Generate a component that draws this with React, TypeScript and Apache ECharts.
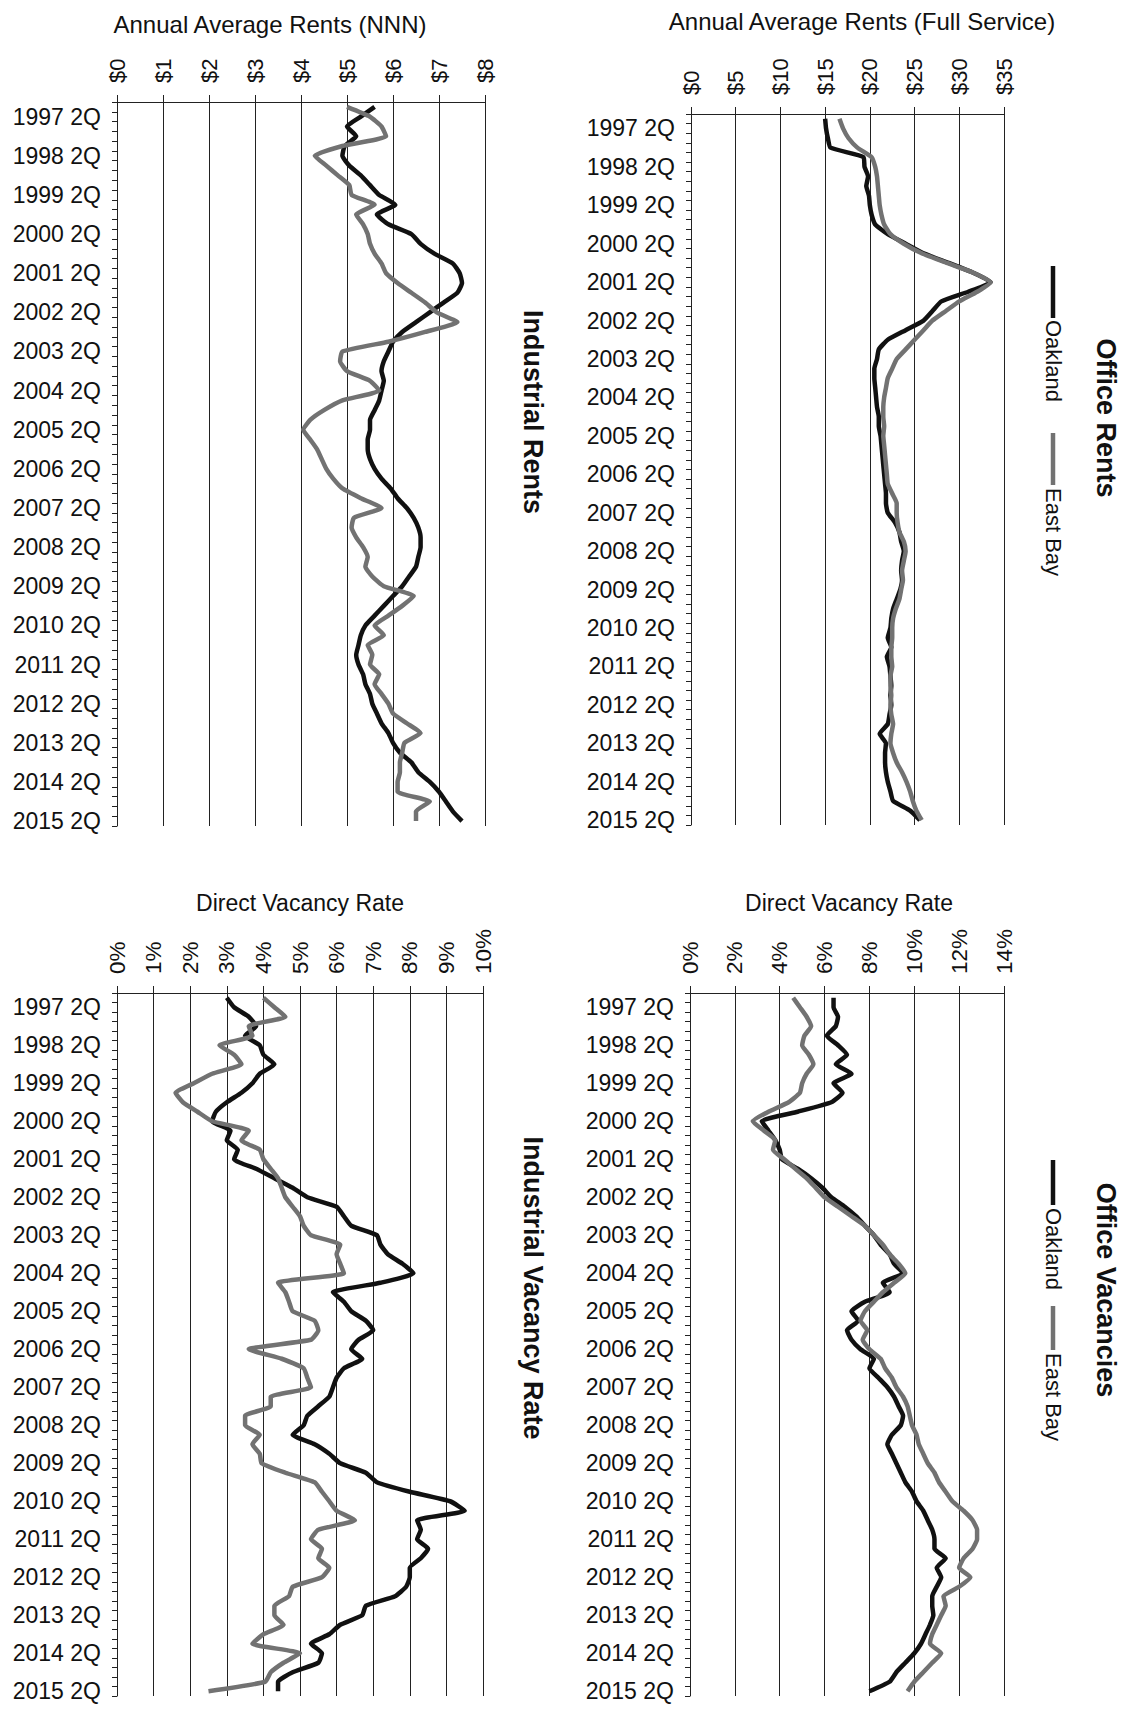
import React, { useEffect, useRef } from "react";
import * as echarts from "echarts";

// ---------- categories ----------
const YEARS = [1997, 1998, 1999, 2000, 2001, 2002, 2003, 2004, 2005, 2006, 2007, 2008, 2009, 2010, 2011, 2012, 2013, 2014, 2015];
const QUARTER_NAMES = ["1Q", "2Q", "3Q", "4Q"];
const LAST_YEAR_QUARTERS = 2;
const CATEGORIES: string[] = [];
YEARS.forEach((y, yi) => {
  const n = yi === YEARS.length - 1 ? LAST_YEAR_QUARTERS : 4;
  for (let q = 0; q < n; q++) CATEGORIES.push(`${y} ${QUARTER_NAMES[q]}`);
});

// ---------- series values (1997 1Q .. 2015 2Q) ----------
const industrialRentOakland = [5.6, 5.3, 5.0, 5.2, 4.95, 4.9, 5.05, 5.3, 5.5, 5.7, 6.05, 5.65, 5.9, 6.4, 6.6, 6.9, 7.3, 7.45, 7.5, 7.4, 7.1, 6.8, 6.5, 6.2, 6.0, 5.9, 5.8, 5.75, 5.8, 5.75, 5.7, 5.6, 5.5, 5.5, 5.45, 5.45, 5.5, 5.6, 5.75, 5.95, 6.1, 6.3, 6.45, 6.55, 6.6, 6.6, 6.55, 6.5, 6.35, 6.2, 6.0, 5.8, 5.6, 5.4, 5.3, 5.25, 5.2, 5.25, 5.35, 5.4, 5.5, 5.55, 5.65, 5.75, 5.9, 6.0, 6.15, 6.4, 6.55, 6.8, 7.0, 7.15, 7.3, 7.5];
const industrialRentEastBay = [5.0, 5.5, 5.75, 5.85, 4.9, 4.3, 4.55, 4.8, 5.05, 5.1, 5.6, 5.2, 5.35, 5.45, 5.5, 5.6, 5.75, 5.85, 6.1, 6.4, 6.7, 6.95, 7.4, 6.7, 5.9, 4.9, 4.85, 5.0, 5.5, 5.7, 4.9, 4.5, 4.2, 4.05, 4.2, 4.35, 4.45, 4.55, 4.7, 4.9, 5.3, 5.75, 5.15, 5.1, 5.2, 5.35, 5.45, 5.4, 5.55, 5.8, 6.45, 6.2, 5.9, 5.6, 5.8, 5.45, 5.55, 5.5, 5.7, 5.6, 5.75, 5.9, 6.0, 6.3, 6.6, 6.25, 6.2, 6.15, 6.15, 6.1, 6.1, 6.8, 6.5, 6.5];

const officeRentOakland = [15.0, 15.1, 15.3, 15.6, 19.3, 19.4, 19.8, 19.6, 19.9, 20.0, 20.2, 20.6, 22.0, 24.0, 26.0, 28.8, 31.5, 33.5, 31.0, 28.0, 27.0, 26.0, 24.0, 22.0, 21.0, 20.8, 20.5, 20.5, 20.6, 20.7, 20.8, 21.0, 21.0, 21.2, 21.3, 21.4, 21.5, 21.6, 21.7, 21.8, 21.8, 22.0, 22.8, 23.3, 23.5, 23.8, 23.6, 23.5, 23.6, 23.4, 23.0, 22.6, 22.4, 22.3, 22.0, 22.4, 21.9, 22.2, 22.3, 22.4, 22.3, 22.4, 22.2, 22.0, 21.1, 21.8, 21.7, 21.7, 21.8, 22.0, 22.3, 22.6, 24.5, 25.6];
const officeRentEastBay = [16.6, 17.0, 17.6, 18.6, 20.2, 20.6, 20.8, 20.9, 21.0, 21.1, 21.3, 21.6, 22.3, 23.8, 25.8, 28.6, 31.5, 33.5, 32.0, 30.0, 28.5, 27.0, 26.0, 25.0, 24.0, 23.0, 22.5, 22.0, 21.8, 21.6, 21.5, 21.5, 21.6, 21.5, 21.6, 21.7, 21.8, 21.9, 22.0, 22.5, 23.0, 23.0, 23.1, 23.3, 23.8, 24.0, 23.8, 23.6, 23.7, 23.5, 23.3, 22.9, 22.6, 22.5, 22.5, 22.4, 22.4, 22.5, 22.3, 22.3, 22.4, 22.3, 22.4, 22.6, 22.4, 22.3, 22.6, 23.0, 23.6, 24.1, 24.5, 24.8, 25.2, 25.8];

const industrialVacOakland = [3.0, 3.2, 3.6, 3.8, 3.5, 3.9, 4.0, 4.3, 3.9, 3.7, 3.4, 3.0, 2.7, 2.6, 3.1, 3.0, 3.3, 3.2, 3.8, 4.3, 4.8, 5.2, 6.0, 6.2, 6.4, 7.1, 7.2, 7.4, 7.8, 8.1, 7.2, 5.9, 6.2, 6.4, 6.8, 7.0, 6.6, 6.4, 6.7, 6.2, 6.0, 5.9, 5.8, 5.5, 5.2, 5.1, 4.8, 5.4, 5.8, 6.1, 6.8, 7.1, 8.0, 9.1, 9.5, 8.2, 8.3, 8.2, 8.5, 8.3, 8.0, 8.0, 7.9, 7.6, 6.8, 6.7, 6.1, 5.8, 5.3, 5.6, 5.5, 4.8, 4.4, 4.4];
const industrialVacEastBay = [4.0, 4.3, 4.6, 3.6, 3.7, 2.8, 3.2, 3.4, 2.6, 2.1, 1.6, 1.8, 2.2, 2.6, 3.6, 3.4, 3.9, 4.0, 4.2, 4.4, 4.5, 4.6, 4.8, 5.0, 5.1, 5.3, 6.1, 6.0, 6.1, 6.2, 4.4, 4.6, 4.7, 4.8, 5.4, 5.5, 5.3, 3.6, 4.5, 5.1, 5.2, 5.3, 4.2, 4.2, 3.5, 3.5, 3.9, 3.7, 3.9, 3.95, 4.6, 5.4, 5.6, 5.8, 6.0, 6.5, 5.5, 5.3, 5.6, 5.5, 5.8, 5.6, 4.8, 4.7, 4.3, 4.3, 4.55, 4.0, 3.7, 5.0, 4.55, 4.2, 4.05, 2.5];

const officeVacOakland = [6.4, 6.4, 6.6, 6.5, 6.1, 6.6, 7.0, 6.5, 7.2, 6.4, 6.8, 6.3, 4.8, 3.2, 3.5, 3.8, 4.0, 4.1, 4.8, 5.4, 5.9, 6.3, 6.9, 7.4, 7.8, 8.2, 8.5, 8.9, 9.1, 9.5, 8.6, 8.9, 7.8, 7.2, 7.5, 7.0, 7.2, 7.6, 8.2, 8.0, 8.4, 8.8, 9.1, 9.3, 9.5, 9.4, 9.0, 8.8, 9.0, 9.2, 9.4, 9.6, 9.9, 10.1, 10.4, 10.6, 10.8, 10.9, 10.9, 11.4, 11.0, 11.2, 11.0, 10.8, 10.8, 10.85, 10.7, 10.5, 10.3, 10.0, 9.6, 9.2, 8.9, 8.0];
const officeVacEastBay = [4.6, 4.9, 5.2, 5.4, 5.1, 5.0, 5.3, 5.5, 5.2, 5.0, 4.9, 4.4, 3.5, 2.8, 3.3, 3.8, 3.7, 4.2, 4.7, 5.2, 5.6, 6.0, 6.6, 7.2, 7.8, 8.2, 8.6, 8.9, 9.3, 9.6, 9.1, 8.6, 8.2, 7.8, 7.6, 7.9, 7.7, 8.0, 8.5, 8.7, 9.0, 9.2, 9.5, 9.7, 9.8, 9.9, 10.1, 10.2, 10.4, 10.6, 10.9, 11.1, 11.4, 11.7, 12.2, 12.6, 12.8, 12.8, 12.6, 12.2, 12.0, 12.5, 12.0, 11.3, 11.4, 11.2, 11.0, 10.8, 10.7, 11.2, 10.8, 10.4, 10.0, 9.7];

// ---------- texts ----------
const SERIES_NAMES = ["Oakland", "East Bay"];
const AXIS_TITLES = ["Annual Average Rents (NNN)", "Annual Average Rents (Full Service)", "Direct Vacancy Rate", "Direct Vacancy Rate"];
const PANEL_TITLES = ["Industrial Rents", "Office Rents", "Industrial Vacancy Rate", "Office Vacancies"];
const VALUE_MAX = [8, 35, 10, 14];
const VALUE_INTERVAL = [1, 5, 1, 2];

const FONT = '"Liberation Sans", Arial, Helvetica, sans-serif';
const INK = "#111111";
const GRAY = "#727272";

const GRIDS = [
  { left: 117, top: 102, width: 368, height: 724 },
  { left: 691, top: 114, width: 313, height: 711 },
  { left: 117, top: 993, width: 366, height: 703 },
  { left: 690, top: 993, width: 314, height: 703 },
];

const dollar = (v: number) => `$${v}`;
const pct = (v: number) => `${v}%`;
const FORMATTERS = [dollar, dollar, pct, pct];
const LABEL_SIZES = [22, 22, 22.5, 22.5];

function buildOption() {
  const xAxis = GRIDS.map((_, i) => ({
    type: "value",
    gridIndex: i,
    position: "top",
    min: 0,
    max: VALUE_MAX[i],
    interval: VALUE_INTERVAL[i],
    axisLine: { show: true, onZero: false, lineStyle: { color: "#222", width: 1 } },
    axisTick: { show: true, inside: false, length: 7, lineStyle: { color: "#222", width: 1 } },
    splitLine: { show: true, lineStyle: { color: "#222", width: 1 } },
    axisLabel: {
      rotate: -90,
      margin: 19,
      fontSize: LABEL_SIZES[i],
      color: INK,
      fontFamily: FONT,
      formatter: FORMATTERS[i],
    },
  }));

  const yAxis = GRIDS.map((_, i) => ({
    type: "category",
    gridIndex: i,
    data: CATEGORIES,
    inverse: true,
    boundaryGap: true,
    axisLine: { show: true, onZero: false, lineStyle: { color: "#222", width: 1 } },
    axisTick: { show: true, interval: 0, length: 5, lineStyle: { color: "#222", width: 1 } },
    splitLine: { show: false },
    axisLabel: {
      interval: (idx: number) => idx % 4 === 1,
      margin: 16,
      fontSize: 23,
      color: INK,
      fontFamily: FONT,
    },
  }));

  const pairs = [
    [industrialRentOakland, industrialRentEastBay],
    [officeRentOakland, officeRentEastBay],
    [industrialVacOakland, industrialVacEastBay],
    [officeVacOakland, officeVacEastBay],
  ];
  const series: any[] = [];
  pairs.forEach((pair, i) => {
    pair.forEach((data, k) => {
      series.push({
        type: "line",
        name: SERIES_NAMES[k],
        xAxisIndex: i,
        yAxisIndex: i,
        data,
        symbol: "none",
        showSymbol: false,
        smooth: 0.15,
        silent: true,
        lineStyle: { color: k === 0 ? INK : GRAY, width: 4.5 },
        z: k === 0 ? 3 : 4,
      });
    });
  });

  const hText = (x: number, y: number, text: string, size: number) => ({
    type: "text",
    x,
    y,
    silent: true,
    style: { text, fontSize: size, fontFamily: FONT, fill: INK, align: "center", verticalAlign: "middle" },
  });
  const vText = (x: number, y: number, text: string, size: number, align: string, weight = "normal") => ({
    type: "text",
    x,
    y,
    rotation: -Math.PI / 2,
    silent: true,
    style: { text, fontSize: size, fontWeight: weight, fontFamily: FONT, fill: INK, align, verticalAlign: "middle" },
  });
  const legLine = (x: number, y1: number, y2: number, color: string) => ({
    type: "line",
    silent: true,
    shape: { x1: x, y1, x2: x, y2 },
    style: { stroke: color, lineWidth: 4.5 },
  });

  const graphic = [
    hText(270, 24, AXIS_TITLES[0], 24),
    hText(862, 21, AXIS_TITLES[1], 24),
    hText(300, 903, AXIS_TITLES[2], 23),
    hText(849, 903, AXIS_TITLES[3], 23),
    vText(533, 412, PANEL_TITLES[0], 27, "center", "bold"),
    vText(1106, 418, PANEL_TITLES[1], 27, "center", "bold"),
    vText(533, 1288, PANEL_TITLES[2], 27, "center", "bold"),
    vText(1106, 1290, PANEL_TITLES[3], 27, "center", "bold"),
    // Office Rents legend
    legLine(1053, 266, 318, INK),
    vText(1053, 320, SERIES_NAMES[0], 22, "left"),
    legLine(1053, 433, 485, GRAY),
    vText(1053, 488, SERIES_NAMES[1], 22, "left"),
    // Office Vacancies legend
    legLine(1053, 1160, 1205, INK),
    vText(1053, 1208, SERIES_NAMES[0], 22, "left"),
    legLine(1053, 1306, 1350, GRAY),
    vText(1053, 1353, SERIES_NAMES[1], 22, "left"),
  ];

  return {
    animation: false,
    backgroundColor: "#ffffff",
    textStyle: { fontFamily: FONT },
    grid: GRIDS.map((g) => ({ ...g, containLabel: false })),
    xAxis,
    yAxis,
    series,
    graphic,
  };
}

export default function App() {
  const ref = useRef<HTMLDivElement>(null);
  useEffect(() => {
    if (!ref.current) return;
    const chart = echarts.init(ref.current, null, { renderer: "svg" });
    chart.setOption(buildOption() as any);
    return () => chart.dispose();
  }, []);
  return (
    <div
      ref={ref}
      style={{ position: "absolute", left: 0, top: 0, width: 1142, height: 1716, background: "#fff" }}
    />
  );
}
